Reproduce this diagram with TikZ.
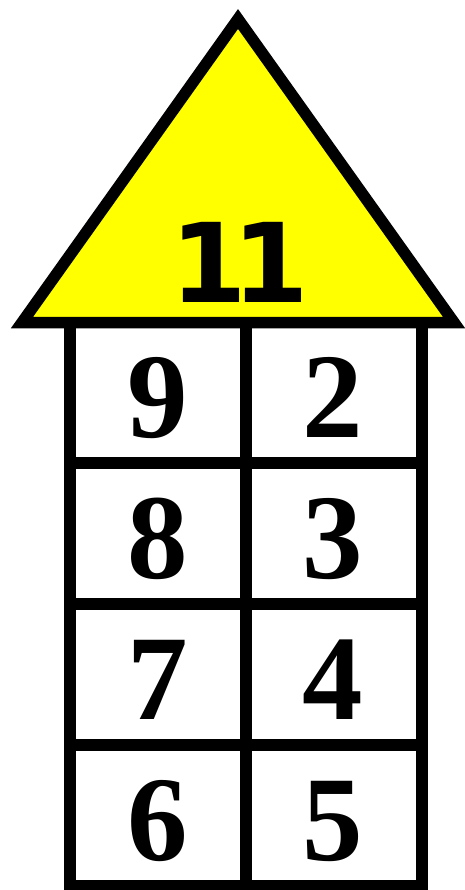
\documentclass[tikz,border=0pt]{standalone}
\usepackage{fontspec}
\setmainfont{Liberation Serif}
\newfontfamily\roofnumfont{DejaVu Sans}
\definecolor{roofyellow}{HTML}{FFFF00}
\tikzset{
  house line/.style={
    draw=black,
    line width=11.5pt,
  },
  roof shape/.style={
    house line,
    fill=roofyellow,
    line join=miter,
  },
  sum label/.style={
    font=\roofnumfont\fontsize{110}{110}\selectfont\bfseries,
    inner sep=0pt,
    anchor=base,
  },
  cell label/.style={
    font=\fontsize{121}{121}\selectfont\bfseries,
    inner sep=0pt,
    anchor=base,
  },
}

\begin{document}
\begin{tikzpicture}[x=1pt, y=-1pt]
  \useasboundingbox (0,0) rectangle (464,890);

  % --- Grid (4 rows, 2 columns) ---
  \draw[house line] (70,322.5) rectangle (422,886);
  \draw[house line] (246,322.5) -- (246,886);
  \foreach \y in {463,604,745} {
    \draw[house line] (70,\y) -- (422,\y);
  }

  % --- Roof ---
  \draw[roof shape] (238,19) -- (22,322.5) -- (454,322.5) -- cycle;
  \node[sum label] (sum) at (239.5,302) {1\kern-15pt 1};

  % --- Cell numbers ---
  \foreach \l/\r [count=\i] in {9/2, 8/3, 7/4, 6/5} {
    \node[cell label] (left\i) at (158,296+141*\i) {\l};
    \node[cell label] (right\i) at (333,296+141*\i) {\r};
  }
\end{tikzpicture}
\end{document}
